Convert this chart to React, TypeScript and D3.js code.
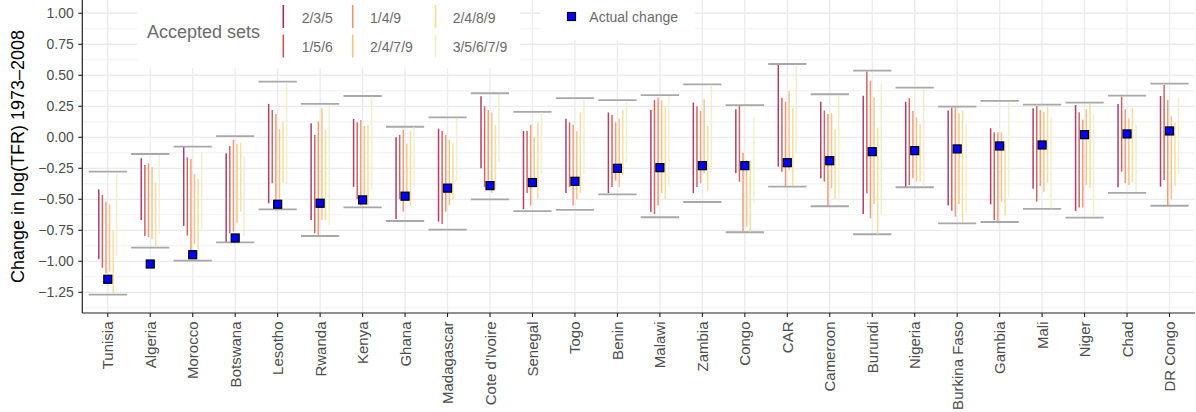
import React from "react";
import * as d3 from "d3";

const countries = ["Tunisia","Algeria","Morocco","Botswana","Lesotho","Rwanda","Kenya","Ghana","Madagascar","Cote d'Ivoire","Senegal","Togo","Benin","Malawi","Zambia","Congo","CAR","Cameroon","Burundi","Nigeria","Burkina Faso","Gambia","Mali","Niger","Chad","DR Congo"];

const actual = [-1.145,-1.022,-0.947,-0.812,-0.540,-0.532,-0.505,-0.475,-0.410,-0.390,-0.365,-0.355,-0.250,-0.245,-0.229,-0.229,-0.205,-0.189,-0.116,-0.108,-0.094,-0.070,-0.062,0.021,0.027,0.051];

const rangeHi = [-0.277,-0.135,-0.076,0.010,0.448,0.269,0.333,0.085,0.160,0.355,0.205,0.315,0.300,0.340,0.427,0.260,0.591,0.347,0.537,0.400,0.247,0.293,0.263,0.279,0.336,0.432];
const rangeLo = [-1.269,-0.890,-0.995,-0.847,-0.581,-0.796,-0.565,-0.675,-0.745,-0.500,-0.595,-0.585,-0.460,-0.645,-0.522,-0.766,-0.398,-0.556,-0.782,-0.403,-0.694,-0.683,-0.578,-0.648,-0.449,-0.552];

// [high, low] per country for each accepted set
const s235 = [[-0.419,-0.984],[-0.169,-0.667],[-0.081,-0.715],[-0.129,-0.842],[0.269,-0.532],[0.113,-0.667],[0.148,-0.40],[0.0,-0.66],[0.07,-0.68],[0.33,-0.25],[0.05,-0.58],[0.15,-0.45],[0.20,-0.45],[0.22,-0.60],[0.28,-0.45],[0.226,-0.290],[0.583,-0.237],[0.287,-0.331],[0.335,-0.619],[0.287,-0.398],[0.215,-0.551],[0.073,-0.540],[0.234,-0.415],[0.260,-0.594],[0.269,-0.403],[0.333,-0.398]];
const s156 = [[-0.465,-1.052],[-0.223,-0.796],[-0.161,-0.793],[-0.070,-0.774],[0.220,-0.371],[0.019,-0.774],[0.121,-0.50],[0.02,-0.50],[0.05,-0.70],[0.25,-0.40],[0.05,-0.45],[0.12,-0.40],[0.18,-0.40],[0.30,-0.62],[0.25,-0.40],[0.252,-0.358],[0.319,-0.277],[0.215,-0.358],[0.529,-0.452],[0.315,-0.385],[0.239,-0.592],[0.040,-0.667],[0.252,-0.519],[0.202,-0.567],[0.327,-0.277],[0.422,-0.344]];
const s149 = [[-0.519,-1.097],[-0.210,-0.806],[-0.175,-0.949],[-0.02,-0.761],[0.188,-0.546],[0.126,-0.788],[0.140,-0.55],[0.06,-0.60],[0.02,-0.60],[0.22,-0.35],[0.10,-0.55],[0.10,-0.55],[0.12,-0.35],[0.32,-0.55],[0.212,-0.371],[-0.124,-0.761],[0.287,-0.393],[0.188,-0.554],[0.456,-0.653],[0.212,-0.331],[0.242,-0.640],[0.04,-0.683],[0.220,-0.393],[0.142,-0.567],[0.226,-0.371],[0.301,-0.546]];
const s2479 = [[-0.540,-1.084],[-0.242,-0.823],[-0.296,-0.860],[-0.054,-0.689],[0.065,-0.56],[0.234,-0.667],[0.091,-0.48],[-0.05,-0.45],[-0.02,-0.55],[0.20,-0.45],[0.0,-0.40],[0.05,-0.50],[0.15,-0.40],[0.30,-0.45],[0.306,-0.290],[-0.183,-0.721],[0.376,-0.264],[0.194,-0.411],[0.323,-0.538],[0.161,-0.358],[0.194,-0.540],[0.040,-0.519],[0.204,-0.439],[0.226,-0.385],[0.153,-0.385],[0.172,-0.500]];
const s2489 = [[-0.748,-1.258],[-0.366,-0.887],[-0.339,-0.903],[-0.044,-0.60],[0.126,-0.366],[0.059,-0.667],[0.10,-0.55],[0.05,-0.55],[-0.05,-0.50],[0.10,-0.42],[0.12,-0.50],[0.20,-0.45],[0.22,-0.30],[0.25,-0.50],[0.091,-0.431],[-0.19,-0.766],[0.234,-0.393],[0.065,-0.498],[0.077,-0.782],[0.107,-0.358],[0.215,-0.685],[-0.035,-0.632],[0.247,-0.371],[0.269,-0.406],[0.234,-0.366],[0.118,-0.393]];
const s35679 = [[-0.290,-0.957],[-0.143,-0.780],[-0.116,-0.742],[-0.156,-0.796],[0.440,-0.377],[0.260,-0.707],[0.327,-0.42],[0.08,-0.40],[0.15,-0.35],[0.35,-0.20],[0.20,-0.30],[0.30,-0.30],[0.28,-0.20],[0.33,-0.40],[0.414,-0.277],[0.158,-0.527],[0.575,-0.124],[0.335,-0.511],[0.430,-0.619],[0.387,-0.398],[0.107,-0.605],[0.279,-0.479],[0.166,-0.573],[0.188,-0.640],[0.099,-0.439],[0.323,-0.296]];

const setNames = ["2/3/5","1/5/6","1/4/9","2/4/7/9","2/4/8/9","3/5/6/7/9"];
const setColors = ["#a32a5e","#c9574f","#e9956b","#f0c27e","#f5dc8f","#f2ecc6"];
const yTicks = [-1.25,-1.0,-0.75,-0.5,-0.25,0,0.25,0.5,0.75,1.0];

const W = 1196, H = 412;
const FONT = "'Liberation Sans', Arial, Helvetica, sans-serif";

export default function App() {
  const sets = [s235, s156, s149, s2479, s2489, s35679];
  const left = 82.3, right = 1195, top = 0, bottom = 313;
  const x = d3.scalePoint<string>().domain(countries).range([left, right]).padding(0.6);
  const y = d3.scaleLinear().domain([-1.417, 1.107]).range([bottom, top]);
  const step = x.step();
  const minor = d3.range(-1.375, 1.11, 0.25);
  const dodge = 3.6;
  const capHalf = step * 0.45;

  return (
    <svg width={W} height={H} style={{ position: "absolute", left: 0, top: 0, display: "block", background: "#fff" }} fontFamily={FONT}>
      <rect x={0} y={0} width={W} height={H} fill="#fff" />
      <g>
        {minor.map((v) => (
          <line key={"mn" + v} x1={left} x2={right} y1={y(v)} y2={y(v)} stroke="#efefef" strokeWidth={0.9} />
        ))}
        {yTicks.map((v) => (
          <line key={"mj" + v} x1={left} x2={right} y1={y(v)} y2={y(v)} stroke="#ebebeb" strokeWidth={1.3} />
        ))}
        {countries.map((c) => (
          <line key={"vg" + c} x1={x(c)} x2={x(c)} y1={top} y2={bottom} stroke="#ebebeb" strokeWidth={1.3} />
        ))}
      </g>
      <g>
        {countries.map((c, i) => (
          <g key={"cap" + c}>
            <line x1={x(c)! - capHalf} x2={x(c)! + capHalf} y1={y(rangeHi[i])} y2={y(rangeHi[i])} stroke="#a8a8a8" strokeWidth={1.8} />
            <line x1={x(c)! - capHalf} x2={x(c)! + capHalf} y1={y(rangeLo[i])} y2={y(rangeLo[i])} stroke="#a8a8a8" strokeWidth={1.8} />
          </g>
        ))}
      </g>
      <g>
        {sets.map((s, k) =>
          s.map((d, i) => {
            const cx = x(countries[i])! + (k - 2.5) * dodge;
            return (
              <line key={"s" + k + "_" + i} x1={cx} x2={cx} y1={y(d[0])} y2={y(d[1])} stroke={setColors[k]} strokeWidth={1.5} strokeOpacity={0.9} />
            );
          })
        )}
      </g>
      <g>
        {countries.map((c, i) => (
          <rect key={"a" + c} x={x(c)! - 4} y={y(actual[i]) - 4} width={8} height={8} fill="#0000ff" stroke="#000" strokeWidth={1.2} />
        ))}
      </g>
      <g>
        <rect x={137} y={0} width={383} height={68} fill="#fff" />
        <text x={147} y={31.5} fontSize={18} fill="#6b6b6b" dominantBaseline="central">Accepted sets</text>
        {setNames.map((n, k) => {
          const col = Math.floor(k / 2);
          const row = k % 2;
          const kx = [283.3, 352.7, 435.5][col];
          const lx = [301.7, 370, 452.7][col];
          const cy = [16.5, 46][row];
          return (
            <g key={"lg" + n}>
              <line x1={kx} x2={kx} y1={cy - 11.5} y2={cy + 11.5} stroke={setColors[k]} strokeWidth={1.6} />
              <text x={lx} y={cy + 1} fontSize={14} fill="#6b6b6b" dominantBaseline="central">{n}</text>
            </g>
          );
        })}
        <rect x={540} y={0} width={155} height={40} fill="#fff" />
        <rect x={567.5} y={12.5} width={8} height={8} fill="#0000ff" stroke="#000" strokeWidth={1.2} />
        <text x={589.3} y={17} fontSize={14} fill="#6b6b6b" dominantBaseline="central">Actual change</text>
      </g>
      <g>
        <line x1={left} x2={left} y1={top} y2={bottom} stroke="#222" strokeWidth={1.2} />
        <line x1={left} x2={right} y1={bottom} y2={bottom} stroke="#222" strokeWidth={1.2} />
        {yTicks.map((v) => (
          <g key={"yt" + v}>
            <line x1={left - 4} x2={left} y1={y(v)} y2={y(v)} stroke="#222" strokeWidth={1.1} />
            <text x={left - 8.5} y={y(v)} fontSize={14} fill="#4d4d4d" textAnchor="end" dominantBaseline="central">{d3.format(".2f")(v)}</text>
          </g>
        ))}
        {countries.map((c) => (
          <g key={"xt" + c}>
            <line x1={x(c)} x2={x(c)} y1={bottom} y2={bottom + 4} stroke="#222" strokeWidth={1.1} />
            <text transform={`translate(${x(c)},${bottom + 8.5}) rotate(-90)`} fontSize={15} fill="#4d4d4d" textAnchor="end" dominantBaseline="central">{c}</text>
          </g>
        ))}
        <text transform={`translate(23.5,${(top + bottom) / 2}) rotate(-90)`} fontSize={18} fill="#000" textAnchor="middle">Change in log(TFR) 1973–2008</text>
      </g>
    </svg>
  );
}
